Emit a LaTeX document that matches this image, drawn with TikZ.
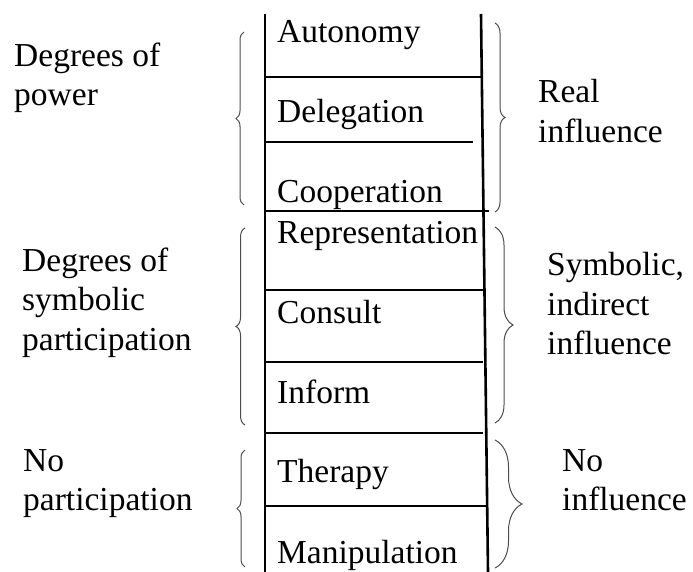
\documentclass[tikz,border=0pt]{standalone}
\usepackage{fontspec}
\setmainfont{Liberation Serif}
\usetikzlibrary{decorations.pathreplacing}

\begin{document}
\begin{tikzpicture}[x=1pt,y=-1pt,
	rail/.style={line width=2.6pt},
	rung/.style={line width=1.6pt},
	brc/.style={decorate,decoration={brace,amplitude=#1},line width=1pt,black!70},
	step item/.style={anchor=base west,inner sep=0pt,font=\fontsize{33.5}{39.5}\selectfont},
	side label/.style={anchor=north west,inner sep=0pt,align=left,font=\fontsize{33.5}{39.5}\selectfont,execute at begin node=\strut}]
	\useasboundingbox (0,0) rectangle (693,572);
	
	\coordinate (lt) at (265,14);
	\coordinate (lb) at (265,572);
	\coordinate (rt) at (481,14);
	\coordinate (rb) at (488,572);
	\draw[rail] (lt) -- (lb);
	\draw[rail] (rt) -- (rb);
	
	\draw[rung] (265,77) -- (481,77);
	\draw[rung] (265,142) -- (473,142);
	\draw[rung] (265,211) -- (489,211);
	\draw[rung] (265,290) -- (483,290);
	\draw[rung] (265,362) -- (483,362);
	\draw[rung] (265,433) -- (483,433);
	\draw[rung] (265,506) -- (488,506);
	
	\node[step item] (autonomy) at (277,43) {Autonomy};
	\node[step item] (delegation) at (277,123) {Delegation};
	\node[step item] (cooperation) at (277,203) {Cooperation};
	\node[step item] (representation) at (277,243) {Representation};
	\node[step item] (consult) at (277,323) {Consult};
	\node[step item] (inform) at (277,403) {Inform};
	\node[step item] (therapy) at (277,482) {Therapy};
	\node[step item] (manipulation) at (277,563) {Manipulation};
	
	\node[side label] (power) at (14,42.35) {Degrees of\\power};
	\node[side label] (symbolic) at (22,247.35) {Degrees of\\symbolic\\participation};
	\node[side label] (nopart) at (23,449.35) {No\\participation};
	\node[side label] (real) at (538,79.35) {Real\\influence};
	\node[side label] (indirect) at (547,252.35) {Symbolic,\\indirect\\influence};
	\node[side label] (noinfl) at (562,449.35) {No\\influence};
	
	\draw[brc=8pt] (244,205) -- (244,32);
	\draw[brc=9pt] (245,425) -- (245,228);
	\draw[brc=8pt] (245,567) -- (245,450);
	\draw[brc=10pt] (495,23) -- (495,212);
	\draw[brc=18pt] (495,227) -- (495,423);
	\draw[brc=27pt] (495,440) -- (495,568);
\end{tikzpicture}
\end{document}
